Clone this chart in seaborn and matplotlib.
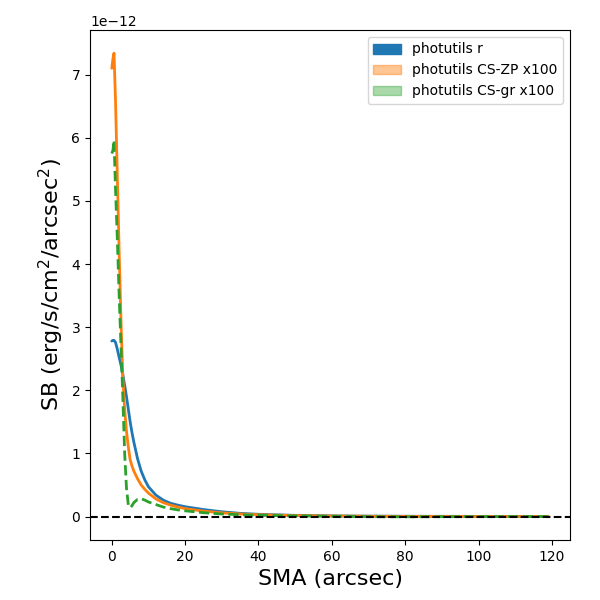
import numpy as np
import seaborn as sns
import matplotlib
matplotlib.use('Agg')
import matplotlib.pyplot as plt
from matplotlib.patches import Patch

# SMA grid (arcsec) and surface brightness profiles (units of 1e-12)
sma = [0, 0.3, 0.6, 1.0, 1.5, 2.0, 2.5, 3.0, 3.5, 4.0, 4.5, 5.0, 5.5, 6.0, 7.0, 8.0,
       9.0, 10, 12, 14, 16, 18, 20, 25, 30, 35, 40, 50, 60, 70, 80, 90, 100, 110, 119]

sb_r = [2.78, 2.79, 2.79, 2.76, 2.65, 2.52, 2.4, 2.25, 2.08, 1.9, 1.7, 1.5, 1.33, 1.18,
        0.92, 0.72, 0.58, 0.47, 0.34, 0.26, 0.21, 0.18, 0.155, 0.11, 0.075, 0.05, 0.035,
        0.018, 0.01, 0.006, 0.004, 0.003, 0.002, 0.0015, 0.001]

sb_zp = [7.1, 7.25, 7.34, 6.6, 5.4, 4.2, 3.1, 2.2, 1.7, 1.35, 1.1, 0.9, 0.8, 0.72,
         0.6, 0.5, 0.43, 0.37, 0.28, 0.22, 0.18, 0.15, 0.125, 0.085, 0.058, 0.04, 0.028,
         0.015, 0.008, 0.004, 0.002, 0.001, 0.0, 0.0, 0.0]

sb_gr = [5.75, 5.8, 5.96, 5.2, 4.4, 3.5, 2.7, 1.9, 1.0, 0.45, 0.18, 0.14, 0.17, 0.22,
         0.27, 0.28, 0.26, 0.23, 0.19, 0.15, 0.125, 0.105, 0.09, 0.06, 0.04, 0.028, 0.02,
         0.01, 0.004, -0.003, -0.005, -0.003, -0.002, -0.001, 0.0]

labels = ['photutils r', 'photutils CS-ZP x100', 'photutils CS-gr x100']
colors = ['#1f77b4', '#ff7f0e', '#2ca02c']

# plain matplotlib look: black text, ticks and spines
sns.set_style('ticks', rc={'text.color': 'black', 'axes.labelcolor': 'black',
                           'xtick.color': 'black', 'ytick.color': 'black',
                           'axes.edgecolor': 'black'})
plt.rcParams['font.family'] = ['DejaVu Sans']

fig, ax = plt.subplots(figsize=(6, 6), dpi=100)
fig.subplots_adjust(left=0.15, right=0.95, top=0.95, bottom=0.1)

x = np.array(sma)
sns.lineplot(x=x, y=np.array(sb_r) * 1e-12, color=colors[0], lw=2, ax=ax, sort=False)
sns.lineplot(x=x, y=np.array(sb_zp) * 1e-12, color=colors[1], lw=2, ax=ax, sort=False)
sns.lineplot(x=x, y=np.array(sb_gr) * 1e-12, color=colors[2], lw=2, ls='--', ax=ax, sort=False)
ax.axhline(0, color='k', ls='--', lw=1.5)

handles = [Patch(color=colors[0], alpha=1.0),
           Patch(color=colors[1], alpha=0.45),
           Patch(color=colors[2], alpha=0.4)]
ax.legend(handles, labels, loc='upper right')

ax.set_xlabel('SMA (arcsec)', fontsize=16)
ax.set_ylabel(r'SB (erg/s/cm$^2$/arcsec$^2$)', fontsize=16)

fig.savefig('out.png', dpi=100)
